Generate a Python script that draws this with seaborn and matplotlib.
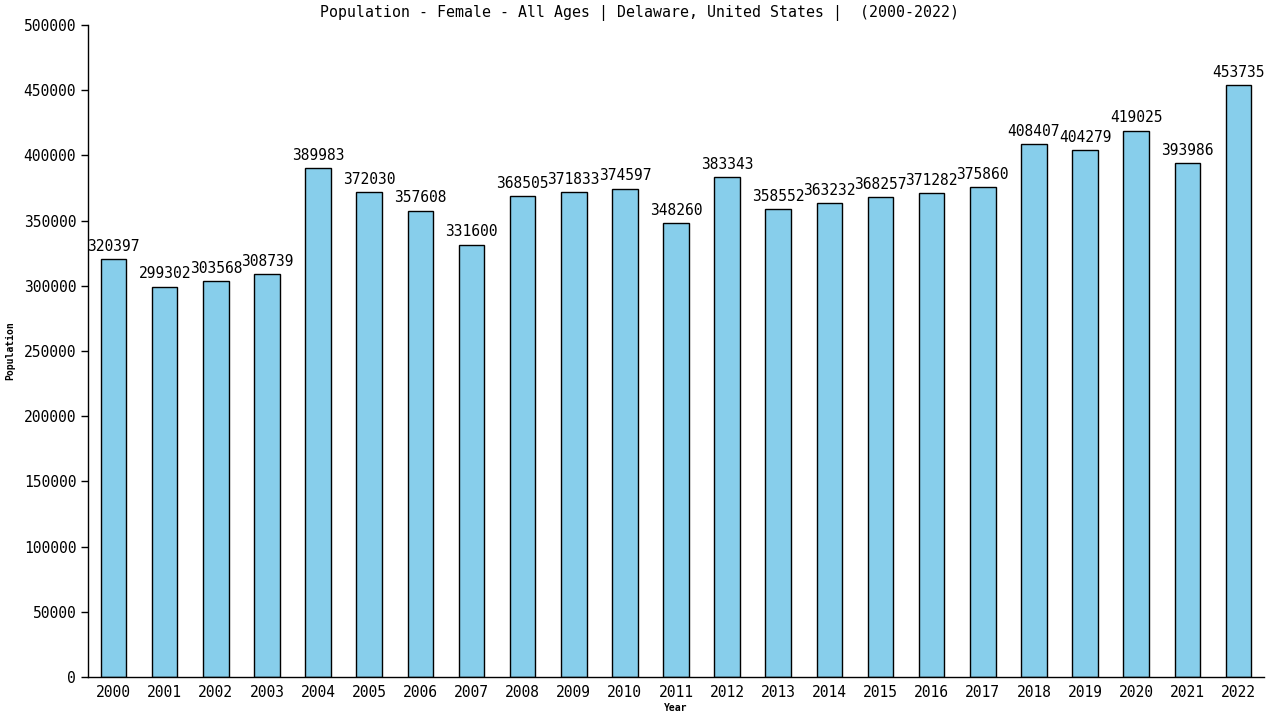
import pandas as pd
import matplotlib.pyplot as plt
import seaborn as sns

years = [str(y) for y in range(2000, 2023)]
population = [320397, 299302, 303568, 308739, 389983, 372030, 357608, 331600,
              368505, 371833, 374597, 348260, 383343, 358552, 363232, 368257,
              371282, 375860, 408407, 404279, 419025, 393986, 453735]

df = pd.DataFrame({"Year": years, "Population": population})

sns.set_style("white")
plt.rcParams['font.family'] = ['DejaVu Sans Mono', 'DejaVu Sans']
plt.rcParams['text.color'] = 'black'
plt.rcParams['axes.labelcolor'] = 'black'
plt.rcParams['xtick.color'] = 'black'
plt.rcParams['ytick.color'] = 'black'

fig = plt.figure(figsize=(12.8, 7.2), dpi=100)
ax = fig.add_axes([0.06875, 0.0597, 0.91875, 0.9056])

sns.barplot(data=df, x="Year", y="Population", color="#87CEEB",
            edgecolor="black", linewidth=1, width=0.5, saturation=1, ax=ax)

# value labels over each bar
for i, v in enumerate(population):
    ax.text(i, v + 4000, str(v), ha="center", va="bottom", fontsize=10.5)

ax.set_xlim(-0.5, 22.5)
ax.set_ylim(0, 500000)
ax.set_yticks(range(0, 500001, 50000))
ax.tick_params(axis="y", length=5, width=1, direction="out", left=True, labelsize=10.5)
ax.tick_params(axis="x", length=0, labelsize=10.5, pad=6)
for s in ["top", "right"]:
    ax.spines[s].set_visible(False)
for s in ["left", "bottom"]:
    ax.spines[s].set_color("black")
    ax.spines[s].set_linewidth(1)

# title is centred on the whole figure, not the axes
fig.text(0.5, 0.982, "Population - Female - All Ages | Delaware, United States |  (2000-2022)",
         ha="center", va="center", fontsize=10.7)
ax.set_xlabel("Year", fontsize=7, fontweight="bold", labelpad=2)
ax.set_ylabel("Population", fontsize=7, fontweight="bold", labelpad=6)

fig.savefig("out.png", dpi=100)
